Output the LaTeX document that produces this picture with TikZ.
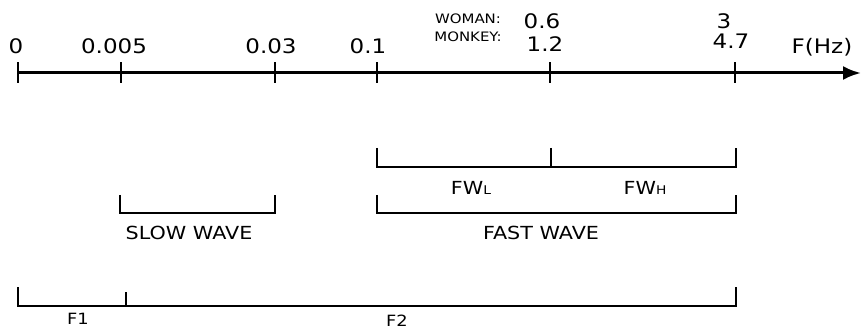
\documentclass[tikz,border=0pt]{standalone}
\usepackage{fontspec}
\setmainfont{DejaVu Sans}[FakeStretch=1.15]
\usetikzlibrary{arrows.meta}
\begin{document}
\begin{tikzpicture}[x=1pt,y=-1pt,
  axisline/.style={line width=3pt},
  tickline/.style={line width=2.6pt},
  bracket/.style={line width=2pt, line join=miter},
  numlbl/.style={inner sep=0pt, font=\fontsize{20}{20}\selectfont},
  tinylbl/.style={inner sep=0pt, font=\fontsize{13}{13}\selectfont},
  bandlbl/.style={inner sep=0pt, font=\fontsize{18}{18}\selectfont},
  flbl/.style={inner sep=0pt, font=\fontsize{15.5}{15.5}\selectfont}]
\useasboundingbox (0,0) rectangle (862,331);

% frequency axis and its tick positions
\coordinate (t0) at (18,73);
\coordinate (t1) at (121,73);
\coordinate (t2) at (275,73);
\coordinate (t3) at (377,73);
\coordinate (t4) at (550,73);
\coordinate (t5) at (735,73);
\coordinate (axend) at (861,73);
\draw[axisline, -{Latex[length=18pt,width=14pt]}] (t0) -- (axend);
\foreach \t in {t0,t1,t2,t3,t4,t5}
  \draw[tickline] ([yshift=-10pt]\t) -- ([yshift=11pt]\t);

% axis labels
\node[numlbl] (l0) at (16,46) {0};
\node[numlbl] (l1) at (114,46) {0.005};
\node[numlbl] (l2) at (271,46) {0.03};
\node[numlbl] (l3) at (368,46) {0.1};
\node[tinylbl] (woman) at (468,19) {WOMAN:};
\node[tinylbl] (monkey) at (468,37) {MONKEY:};
\node[numlbl] (w06) at (542,21) {0.6};
\node[numlbl] (m12) at (545,44) {1.2};
\node[numlbl] (w3) at (724,21) {3};
\node[numlbl] (m47) at (731,41) {4.7};
\node[numlbl] (fhz) at (822,47) {F(Hz)};

% FW_L / FW_H bracket
\coordinate (fwa) at (377,148);
\coordinate (fwb) at (377,167);
\coordinate (fwc) at (736,167);
\coordinate (fwd) at (736,148);
\coordinate (fwm) at (551,148);
\draw[bracket] (fwa) -- (fwb) -- (fwc) -- (fwd);
\draw[bracket] (fwm) -- (fwm |- fwb);
\node[bandlbl] (fwl) at (471,188) {FW{\fontsize{12}{12}\selectfont L}};
\node[bandlbl] (fwh) at (645,188) {FW{\fontsize{12}{12}\selectfont H}};

% fast wave bracket
\coordinate (fa) at (377,195);
\coordinate (fb) at (377,213);
\coordinate (fc) at (736,213);
\coordinate (fd) at (736,195);
\draw[bracket] (fa) -- (fb) -- (fc) -- (fd);
\node[bandlbl] (fast) at (541,233) {FAST WAVE};

% slow wave bracket
\coordinate (sa) at (120,195);
\coordinate (sb) at (120,213);
\coordinate (sc) at (275,213);
\coordinate (sd) at (275,195);
\draw[bracket] (sa) -- (sb) -- (sc) -- (sd);
\node[bandlbl] (slow) at (189,233) {SLOW WAVE};

% F1 / F2 bracket
\coordinate (ga) at (18,287);
\coordinate (gb) at (18,306);
\coordinate (gc) at (736,306);
\coordinate (gd) at (736,287);
\coordinate (gm) at (126,292);
\draw[bracket] (ga) -- (gb) -- (gc) -- (gd);
\draw[bracket] (gm) -- (gm |- gb);
\node[flbl] (f1) at (78,319) {F1};
\node[flbl] (f2) at (397,321) {F2};
\end{tikzpicture}
\end{document}
